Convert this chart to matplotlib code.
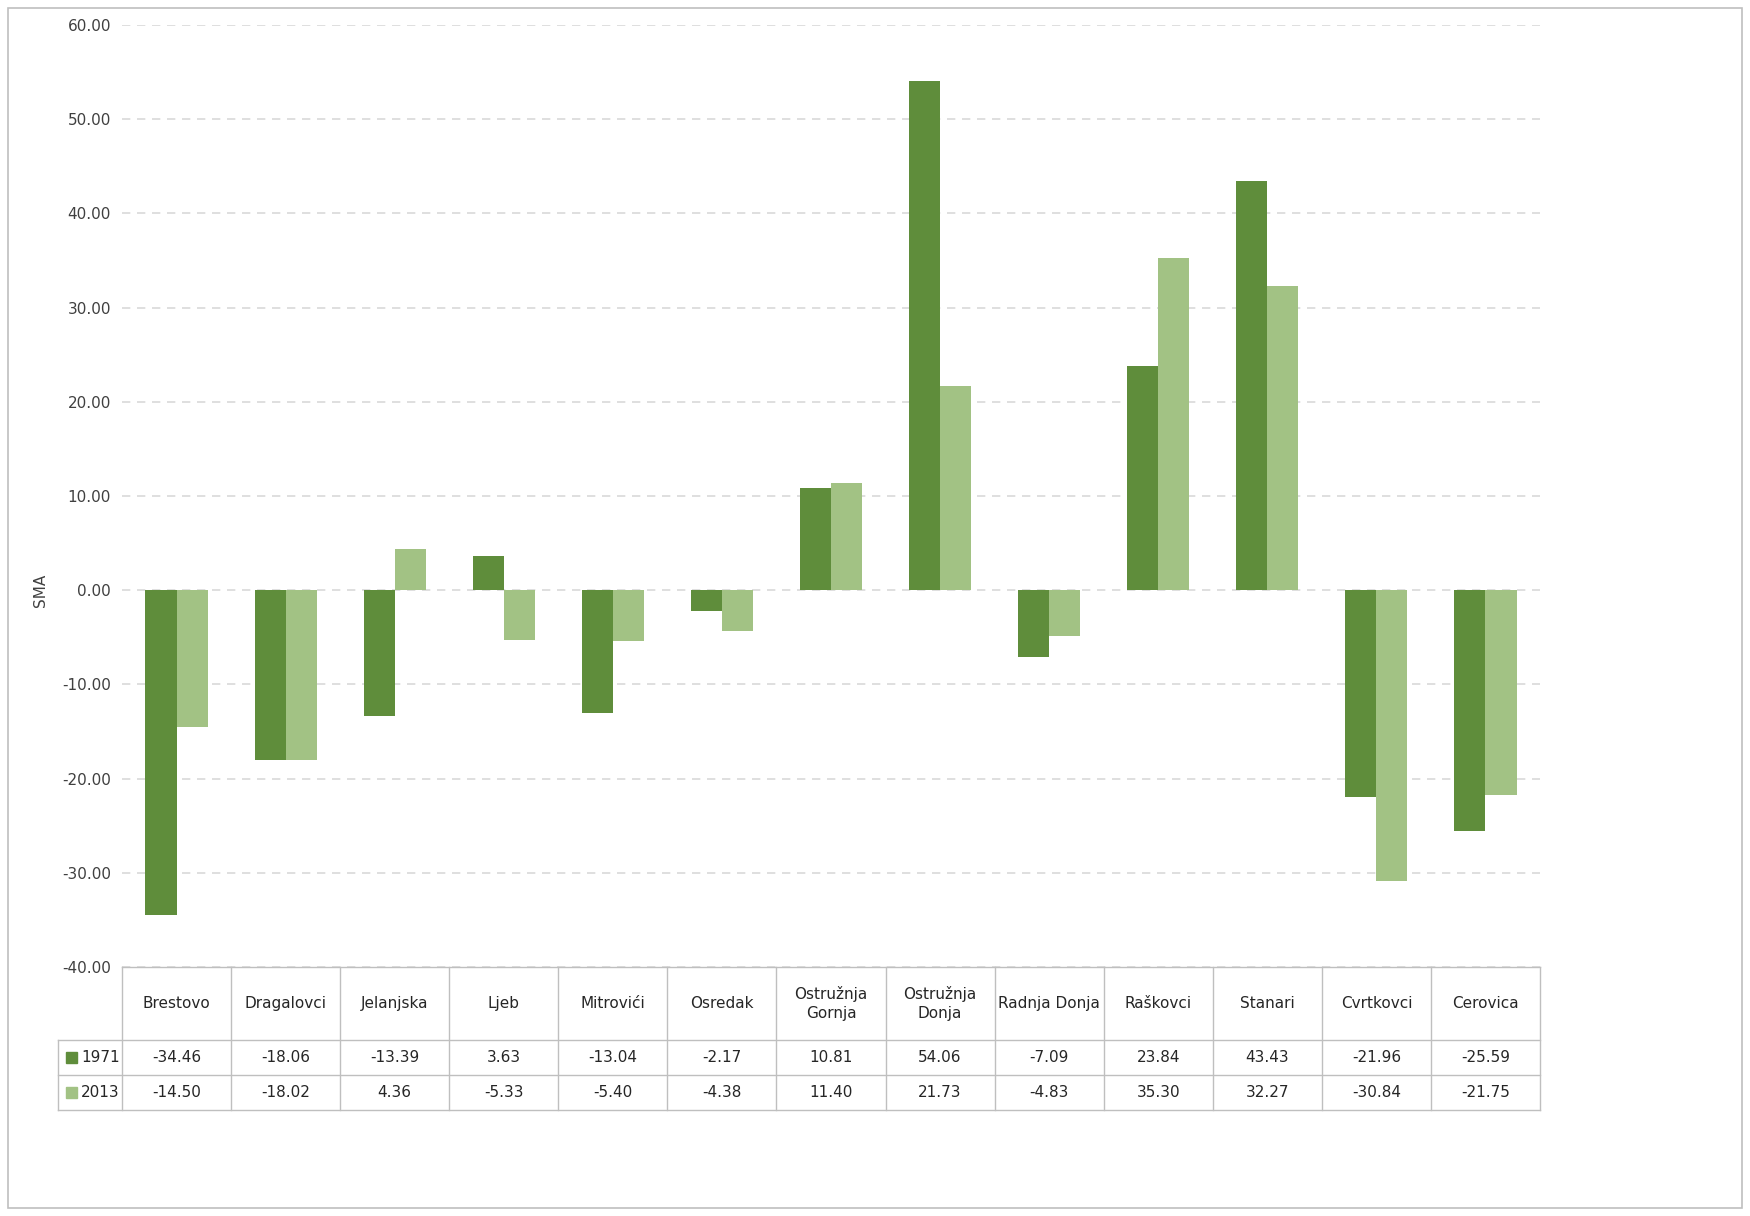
import matplotlib
matplotlib.use("Agg")
import matplotlib.pyplot as plt
from matplotlib.patches import Rectangle
import numpy as np

categories = ["Brestovo", "Dragalovci", "Jelanjska", "Ljeb", "Mitrovići", "Osredak",
              "Ostružnja\nGornja", "Ostružnja\nDonja", "Radnja Donja", "Raškovci",
              "Stanari", "Cvrtkovci", "Cerovica"]
series_names = ["1971", "2013"]
v1971 = [-34.46, -18.06, -13.39, 3.63, -13.04, -2.17, 10.81, 54.06, -7.09, 23.84, 43.43, -21.96, -25.59]
v2013 = [-14.50, -18.02, 4.36, -5.33, -5.40, -4.38, 11.40, 21.73, -4.83, 35.30, 32.27, -30.84, -21.75]
colors = ["#5F8D3B", "#A2C284"]

W, H = 1750, 1216
fig = plt.figure(figsize=(W/100, H/100), dpi=100)
fig.patches.append(Rectangle((8/W, 8/H), 1-16/W, 1-16/H, transform=fig.transFigure,
                             fill=False, edgecolor="#BFBFBF", lw=1.2))
L, R, T, B = 122, 1540, 25, 967
ax = fig.add_axes([L/W, 1-B/H, (R-L)/W, (B-T)/H])
n = len(categories)
x = np.arange(n)
bw = 0.285
ax.bar(x - bw/2, v1971, bw, color=colors[0], zorder=3)
ax.bar(x + bw/2, v2013, bw, color=colors[1], zorder=3)
ax.set_xlim(-0.5, n-0.5)
ax.set_ylim(-40, 60)
ax.set_yticks(np.arange(-40, 61, 10))
ax.set_yticklabels([f"{t:.2f}" for t in np.arange(-40, 61, 10)], fontsize=11, color="#404040")
ax.yaxis.grid(True, linestyle=(0, (5, 4)), color="#D9D9D9", lw=1.2, zorder=0)
ax.set_xticks([])
for s in ax.spines.values():
    s.set_visible(False)
ax.tick_params(axis="y", length=0, pad=8)
fig.text(40/W, 1-590/H, "SMA", rotation=90, ha="center", va="center", fontsize=11, color="#404040")

# data table
ph = B - T
pw = R - L
def fy(px): return (B - px) / ph
y_top = 0.0
y_h = fy(1040); y_r1 = fy(1075); y_r2 = fy(1110)
x_left = (58 - L) / pw
lc = "#BFBFBF"
kw = dict(transform=ax.transAxes, clip_on=False, color=lc, lw=1)
ax.plot([0, 1], [y_top, y_top], **kw)
for yy in (y_h, y_r1, y_r2):
    ax.plot([x_left, 1], [yy, yy], **kw)
ax.plot([x_left, x_left], [y_h, y_r2], **kw)
for i in range(n + 1):
    xx = i / n
    ax.plot([xx, xx], [y_top, y_r2], **kw)
tk = dict(transform=ax.transAxes, ha="center", va="center", fontsize=11, color="#262626", clip_on=False)
for i, c in enumerate(categories):
    xc = (i + 0.5) / n
    ax.text(xc, (y_top + y_h) / 2, c, linespacing=1.3, **tk)
    ax.text(xc, (y_h + y_r1) / 2, f"{v1971[i]:.2f}", **tk)
    ax.text(xc, (y_r1 + y_r2) / 2, f"{v2013[i]:.2f}", **tk)
for j, (yy0, yy1) in enumerate([(y_h, y_r1), (y_r1, y_r2)]):
    yc = (yy0 + yy1) / 2
    sq = 11 / pw
    ax.add_patch(Rectangle((x_left + 8/pw, yc - 5.5/ph), sq, 11/ph, transform=ax.transAxes,
                           color=colors[j], clip_on=False))
    ax.text(x_left + 23/pw, yc, series_names[j], transform=ax.transAxes, ha="left", va="center",
            fontsize=11, color="#262626", clip_on=False)

fig.savefig("out.png", dpi=100)
